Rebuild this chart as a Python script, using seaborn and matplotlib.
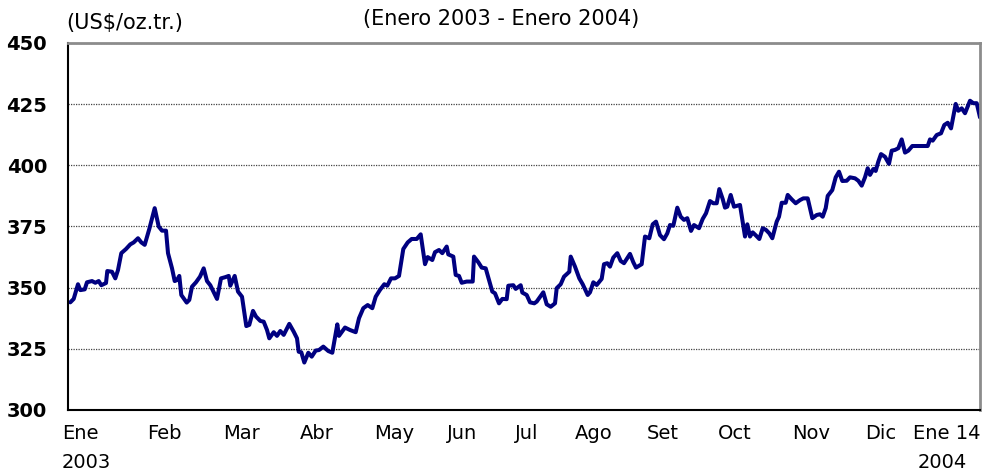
import numpy as np
import pandas as pd
import matplotlib
matplotlib.use("Agg")
import matplotlib.pyplot as plt
import matplotlib.transforms as mtransforms
import seaborn as sns

# ---- data: days since 1 Jan 2003, gold price (US$/oz.tr.) ----
days = [0.95, 2.36, 4.14, 5.10, 6.92, 7.87, 9.95, 11.32, 12.72, 13.80, 15.75, 16.29,
        18.24, 19.60, 20.72, 22.09, 24.04, 25.82, 27.23, 29.01, 30.38, 31.79, 33.70,
        35.93, 37.59, 38.96, 40.62, 41.45, 43.11, 44.22, 45.18, 46.13, 46.96, 49.20,
        50.28, 51.39, 53.05, 54.71, 56.24, 57.61, 58.98, 61.76, 63.41, 65.20, 66.61,
        67.27, 69.09, 70.46, 72.12, 73.90, 75.14, 76.68, 77.92, 79.70, 81.11, 82.48,
        83.43, 85.26, 86.62, 87.99, 89.40, 91.72, 93.55, 94.91, 95.62, 96.70, 97.94,
        99.60, 101.01, 102.67, 104.03, 105.82, 107.89, 109.55, 111.62, 112.32, 114.81,
        116.88, 119.24, 120.61, 122.39, 124.22, 126.12, 127.53, 129.32, 131.10, 132.34,
        133.87, 135.53, 137.19, 138.97, 140.80, 142.45, 144.53, 146.18, 147.97, 149.09,
        150.99, 152.11, 153.77, 155.14, 156.96, 157.62, 159.70, 160.69, 162.06, 163.18,
        165.25, 167.74, 168.28, 170.06, 171.47, 173.13, 174.91, 175.86, 176.98, 178.64,
        180.01, 181.83, 182.49, 184.57, 185.56, 187.63, 188.30, 190.12, 191.49, 193.27,
        194.26, 197.00, 198.41, 200.07, 201.85, 202.56, 204.21, 205.58, 207.78, 208.36,
        210.14, 211.92, 213.33, 215.40, 216.36, 217.73, 219.13, 221.20, 222.16, 223.53,
        224.64, 226.01, 227.67, 229.08, 230.45, 232.93, 234.30, 235.42, 237.78, 239.15,
        240.93, 242.34, 243.71, 245.36, 247.02, 248.39, 249.51, 250.88, 252.54, 253.95,
        255.32, 256.68, 258.22, 259.46, 261.54, 263.07, 264.44, 266.09, 267.46, 268.87,
        269.95, 271.36, 272.31, 273.26, 274.67, 276.04, 277.41, 278.53, 280.60, 281.56,
        282.67, 283.79, 285.16, 286.53, 287.94, 289.31, 290.68, 291.92, 293.74, 294.69,
        295.81, 297.47, 298.30, 299.96, 301.61, 303.40, 304.77, 306.59, 308.50, 310.32,
        311.68, 312.80, 314.05, 314.88, 316.78, 318.19, 319.56, 320.93, 322.75, 324.12,
        326.19, 327.56, 328.97, 330.34, 331.45, 332.41, 333.78, 334.77, 335.85, 336.97,
        338.62, 340.28, 341.40, 342.77, 344.14, 345.55, 346.92, 348.29, 349.94, 352.43,
        354.50, 356.33, 357.28, 358.40, 360.06, 361.84, 363.21, 364.62, 365.99, 367.93,
        369.01, 370.42, 371.79, 373.86, 375.23, 376.64, 378.0]
price = [344.0, 345.4, 351.4, 349.0, 349.3, 352.2, 352.7, 352.0, 352.7, 351.0, 351.9, 356.8,
         356.5, 353.8, 357.2, 364.1, 365.8, 367.7, 368.5, 370.2, 368.5, 367.5, 374.0,
         382.5, 375.0, 373.3, 373.3, 364.1, 357.9, 352.7, 353.1, 354.8, 347.0, 343.9,
         345.0, 350.4, 352.2, 354.5, 357.9, 352.7, 351.0, 345.4, 353.8, 354.3, 354.8,
         350.8, 354.8, 348.4, 346.3, 334.3, 334.8, 340.5, 338.2, 336.4, 336.1, 332.7,
         329.3, 331.8, 330.3, 332.3, 330.7, 335.2, 332.0, 329.3, 323.8, 323.6, 319.4,
         323.4, 321.8, 324.3, 324.5, 325.9, 324.1, 323.4, 335.0, 330.3, 333.7,
         332.7, 331.8, 337.5, 341.6, 342.9, 341.6, 346.3, 349.1, 351.4, 350.8,
         353.8, 353.8, 354.8, 365.8, 368.5, 369.9, 369.9, 371.8, 359.6, 362.5,
         361.3, 364.5, 365.4, 364.1, 366.8, 363.6, 362.7, 355.2, 354.8, 352.0,
         352.5, 352.5, 362.7, 360.4, 358.2, 357.9, 351.8, 348.4, 347.7, 343.6,
         345.4, 345.3, 350.8, 351.0, 349.5, 351.0, 348.0, 347.0, 344.0, 343.6,
         344.3, 348.1, 343.2, 342.2, 343.6, 349.8, 351.4, 354.5, 356.5, 362.7,
         358.6, 353.8, 351.4, 347.0, 348.1, 352.2, 351.1, 353.6, 359.6, 360.0,
         358.6, 362.3, 364.1, 360.9, 360.0, 363.8, 360.4, 358.2, 359.6, 370.9,
         370.2, 375.9, 377.0, 371.5, 369.8, 372.2, 375.6, 375.3, 382.7, 379.0,
         377.7, 378.4, 373.2, 375.6, 374.3, 378.1, 380.4, 385.4, 384.5, 384.5,
         390.3, 386.2, 382.7, 383.1, 387.9, 383.1, 383.5, 383.8, 370.9, 375.9,
         370.9, 372.6, 371.3, 369.9, 374.3, 373.6, 372.2, 370.2, 377.0, 379.0,
         384.7, 384.7, 387.9, 386.1, 384.5, 385.8, 386.5, 386.5, 378.4, 379.7,
         380.0, 379.0, 382.5, 387.5, 389.9, 395.1, 397.4, 393.6, 393.7, 395.1,
         394.7, 393.7, 391.7, 395.1, 398.8, 396.1, 398.5, 397.7, 401.5, 404.6,
         403.5, 400.6, 406.0, 406.3, 407.0, 410.6, 405.2, 406.0, 407.9, 407.9,
         407.9, 407.9, 410.6, 410.1, 412.4, 413.1, 416.5, 417.4, 415.1, 425.1,
         422.3, 423.3, 421.3, 426.4, 425.4, 425.4, 419.6]

month_labels = ["Ene", "Feb", "Mar", "Abr", "May", "Jun", "Jul", "Ago", "Set",
                "Oct", "Nov", "Dic", "Ene 14"]
month_pos = [-2.5, 32.7, 64.2, 96.2, 126.8, 157.1, 185.3, 210.1, 240.0,
             269.4, 300.1, 330.3, 350.2]
y_ticks = [300, 325, 350, 375, 400, 425, 450]

df = pd.DataFrame({"day": days, "price": price})

sns.set_style("white")
plt.rcParams["font.family"] = ["DejaVu Sans"]
plt.rcParams["text.color"] = "black"
plt.rcParams["ytick.color"] = "black"
plt.rcParams["xtick.color"] = "black"
plt.rcParams["axes.labelcolor"] = "black"

fig = plt.figure(figsize=(9.92, 4.73), dpi=100)
ax = fig.add_axes([68 / 992, 63 / 473, 912 / 992, 367 / 473])

sns.lineplot(data=df, x="day", y="price", ax=ax, color="#000080",
             linewidth=2.9, estimator=None, sort=False)

ax.set_xlim(0, 378)
ax.set_ylim(300, 450)
ax.set_yticks(y_ticks)
ax.set_yticklabels([str(v) for v in y_ticks], fontsize=14, fontweight="bold",
                   color="black")
ax.set_xticks([])
ax.set_xlabel("")
ax.set_ylabel("")
ax.tick_params(axis="y", direction="out", length=6, width=1.2, color="black", pad=9)

ax.yaxis.grid(True, color="#444444", linewidth=0.9, linestyle=(0, (1, 1)))
ax.xaxis.grid(False)

for s in ["left", "bottom"]:
    ax.spines[s].set_color("black")
    ax.spines[s].set_linewidth(1.5)
for s in ["top", "right"]:
    ax.spines[s].set_color("#8c8c8c")
    ax.spines[s].set_linewidth(2.0)

trans = mtransforms.blended_transform_factory(ax.transData, ax.transAxes)
for lab, pos in zip(month_labels, month_pos):
    ax.text(pos, -0.063, lab, transform=trans, ha="left", va="center",
            fontsize=14, color="black", clip_on=False)
ax.text(-2.5, -0.142, "2003", transform=trans, ha="left", va="center",
        fontsize=14, color="black", clip_on=False)
ax.text(352.0, -0.142, "2004", transform=trans, ha="left", va="center",
        fontsize=14, color="black", clip_on=False)

fig.text(66 / 992, 1 - 23 / 473, "(US$/oz.tr.)", ha="left", va="center",
         fontsize=15, color="black")
fig.text(501 / 992, 1 - 19 / 473, "(Enero 2003 - Enero 2004)", ha="center",
         va="center", fontsize=15, color="black")

fig.savefig("out.png", dpi=100)
